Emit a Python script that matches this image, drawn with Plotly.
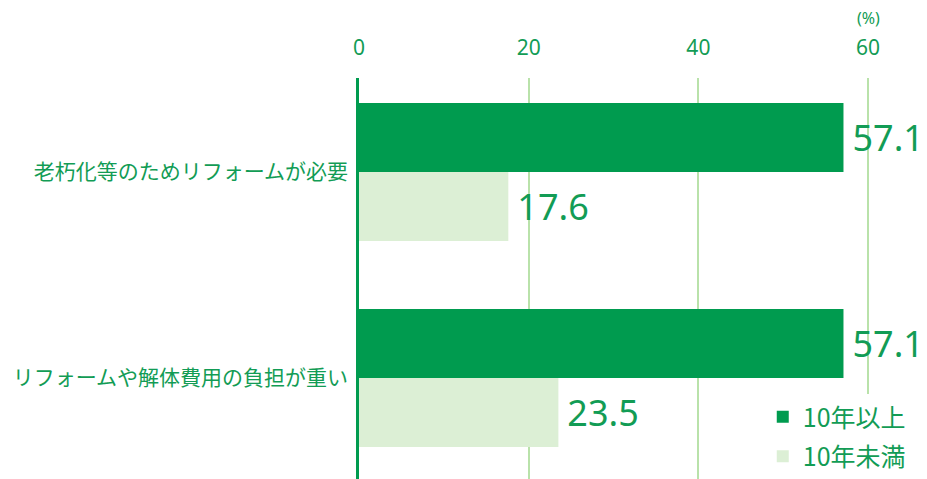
import plotly.graph_objects as go

# Survey items (top to bottom) and shares in percent
categories = ["老朽化等のためリフォームが必要", "リフォームや解体費用の負担が重い"]
series_names = ["10年以上", "10年未満"]
over_10y = [57.1, 57.1]
under_10y = [17.6, 23.5]
x_ticks = [0, 20, 40, 60]

DARK = "#009b4f"
LIGHT = "#dcefd5"
TEXT = "#129c55"
GRID = "#b9e2aa"
NUM = "Noto Sans, sans-serif"
JP = "Noto Sans CJK JP, sans-serif"

positions = list(range(len(categories)))

fig = go.Figure()
for name, vals, color in [(series_names[0], over_10y, DARK),
                          (series_names[1], under_10y, LIGHT)]:
    fig.add_trace(go.Bar(
        name=name,
        y=positions,
        x=vals,
        orientation="h",
        marker=dict(color=color, line=dict(width=0)),
        text=[f"\u2009{v:.1f}" for v in vals],
        textposition="outside",
        textfont=dict(family=NUM, size=36, color=TEXT),
        constraintext="none",
        cliponaxis=False,
        legendgroup=name,
        hoverinfo="skip",
    ))

fig.update_layout(
    width=927,
    height=479,
    margin=dict(l=359, r=8, t=78, b=0),
    paper_bgcolor="white",
    plot_bgcolor="white",
    barmode="group",
    bargap=0.33,
    bargroupgap=0,
    showlegend=True,
    legend=dict(
        x=0.721, y=0.0, xanchor="left", yanchor="bottom",
        bgcolor="white",
        font=dict(family=JP, size=25, color=TEXT),
        tracegroupgap=4,
        itemwidth=30,
    ),
    xaxis=dict(
        side="top",
        range=[0, 66],
        tickvals=x_ticks,
        ticktext=[str(t) for t in x_ticks],
        tickfont=dict(family=NUM, size=21, color=TEXT),
        ticklabelstandoff=18,
        showgrid=True,
        gridcolor=GRID,
        gridwidth=1.5,
        zeroline=False,
        showline=False,
        ticks="",
        fixedrange=True,
    ),
    yaxis=dict(
        range=[1.49, -0.456],
        tickvals=positions,
        ticktext=categories,
        tickfont=dict(family=JP, size=21, color=TEXT),
        ticklabelstandoff=4,
        showgrid=False,
        zeroline=False,
        showline=True,
        linecolor=DARK,
        linewidth=2.5,
        ticks="",
        fixedrange=True,
    ),
    annotations=[dict(
        text="(%)", xref="x", yref="paper", x=60, y=1.0, yshift=60,
        xanchor="center", yanchor="middle", showarrow=False,
        font=dict(family=NUM, size=16, color=TEXT),
    )],
)

fig.write_html("out.html")
